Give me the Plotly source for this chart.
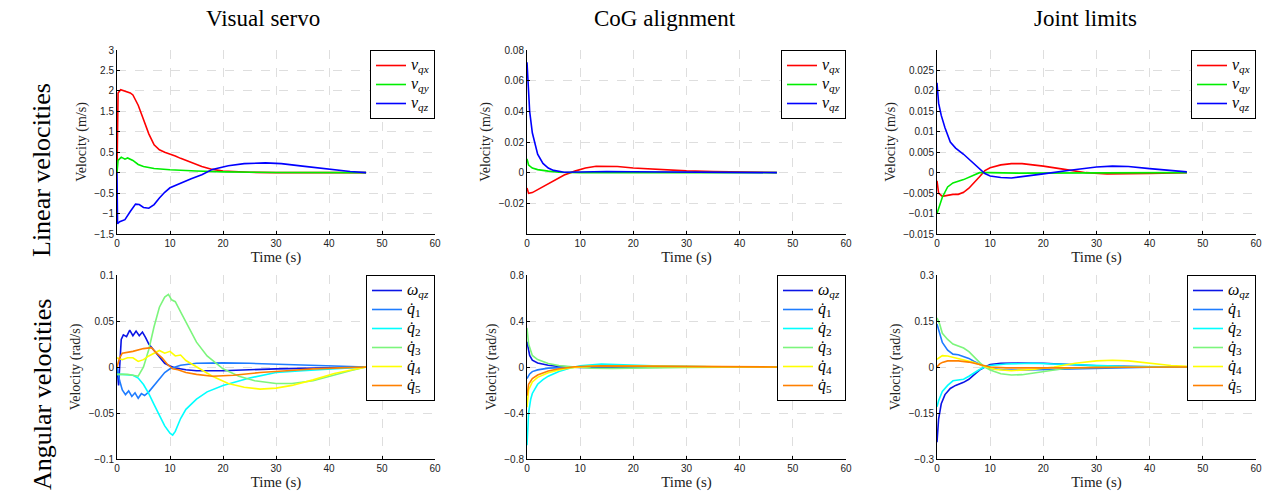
import plotly.graph_objects as go

# ---------------- column / row titles ----------------
col_titles = ["Visual servo", "CoG alignment", "Joint limits"]
row_titles = ["Linear velocities", "Angular velocities"]

lin_names = ["<i>v</i><sub><i>qx</i></sub>", "<i>v</i><sub><i>qy</i></sub>", "<i>v</i><sub><i>qz</i></sub>"]
ang_names = ["<i>ω</i><sub><i>qz</i></sub>", "<i>q̇</i><sub>1</sub>", "<i>q̇</i><sub>2</sub>",
             "<i>q̇</i><sub>3</sub>", "<i>q̇</i><sub>4</sub>", "<i>q̇</i><sub>5</sub>"]
lin_colors = ["#ff0000", "#00ee00", "#0000ff"]
ang_colors = ["#0a14e6", "#1e7cff", "#00ffff", "#7cf57c", "#ffff00", "#ff8000"]

x_ticks = [0, 10, 20, 30, 40, 50, 60]

# ---------------- Visual servo: linear ----------------
vs_vqx_t = [0, 0.2, 0.7, 1.5, 2.5, 3, 4, 5, 6, 7, 8, 9, 10, 11, 12, 14, 16, 18, 20, 25, 30, 47]
vs_vqx = [0, 1.95, 2.03, 2.0, 1.95, 1.9, 1.65, 1.3, 0.95, 0.68, 0.56, 0.5, 0.46, 0.41, 0.35, 0.25, 0.15, 0.08, 0.04, 0.01, 0.0, 0.0]
vs_vqy_t = [0, 0.2, 0.8, 1.5, 2, 3, 4, 5, 7, 10, 15, 20, 30, 47]
vs_vqy = [0, 0.3, 0.38, 0.33, 0.36, 0.3, 0.2, 0.15, 0.1, 0.07, 0.04, 0.02, 0.005, 0]
vs_vqz_t = [0, 0.1, 0.5, 1.5, 2.5, 3.5, 4.2, 5, 6, 7, 8, 9, 10, 12, 14, 16, 18, 21, 24, 28, 31, 35, 40, 44, 47]
vs_vqz = [0, -1.25, -1.2, -1.15, -0.95, -0.77, -0.78, -0.85, -0.87, -0.78, -0.62, -0.48, -0.37, -0.25, -0.15, -0.05, 0.08, 0.17, 0.22, 0.24, 0.22, 0.16, 0.08, 0.03, 0]

# ---------------- CoG alignment: linear ----------------
cg_vqx_t = [0, 0.3, 1, 3, 5, 7, 9, 11, 13, 15, 17, 20, 25, 30, 35, 40, 47]
cg_vqx = [-0.01, -0.0135, -0.013, -0.009, -0.005, -0.0015, 0.001, 0.003, 0.0042, 0.0043, 0.004, 0.003, 0.002, 0.0012, 0.0007, 0.0004, 0.0001]
cg_vqy_t = [0, 0.3, 1, 2, 4, 6, 10, 47]
cg_vqy = [0.009, 0.005, 0.003, 0.002, 0.001, 0.0003, 0, 0]
cg_vqz_t = [0, 0.2, 0.5, 1, 1.5, 2, 3, 4, 5, 7, 10, 15, 20, 30, 47]
cg_vqz = [0.072, 0.055, 0.04, 0.026, 0.018, 0.012, 0.006, 0.003, 0.0015, 0.0003, 0.0004, 0.0008, 0.0006, 0.0003, 0]

# ---------------- Joint limits: linear ----------------
jl_vqx_t = [0, 0.3, 1, 2, 3, 4, 5, 6, 7, 8, 9, 10, 12, 14, 16, 20, 24, 28, 32, 36, 40, 47]
jl_vqx = [-0.002, -0.005, -0.0058, -0.0055, -0.0053, -0.0053, -0.0048, -0.0038, -0.0025, -0.001, 0.0005, 0.0012, 0.0019, 0.0022, 0.0022, 0.0016, 0.0008, 0.0, -0.0003, -0.0003, -0.0002, 0]
jl_vqy_t = [0, 0.5, 1, 2, 3, 5, 7, 8, 10, 15, 47]
jl_vqy = [-0.010, -0.008, -0.006, -0.0035, -0.0025, -0.0017, -0.0005, 0, 0, -0.0001, 0]
jl_vqz_t = [0, 0.3, 0.8, 1.5, 2.5, 3.5, 5, 6, 7, 8, 9, 10, 12, 14, 16, 20, 25, 30, 33, 36, 40, 44, 47]
jl_vqz = [0.022, 0.017, 0.014, 0.011, 0.0075, 0.006, 0.0045, 0.0033, 0.002, 0.0008, -0.0002, -0.0008, -0.0012, -0.0013, -0.001, -0.0003, 0.0006, 0.0014, 0.0016, 0.0015, 0.001, 0.0005, 0.0002]

# ---------------- Visual servo: angular ----------------
vs_wqz_t = [0, 0.3, 0.8, 1.2, 1.8, 2.4, 3.0, 3.6, 4.2, 4.8, 5.4, 6, 7, 8, 9, 10, 11, 13, 15, 20, 25, 30, 40, 47]
vs_wqz = [0, -0.02, 0.03, 0.035, 0.033, 0.04, 0.034, 0.039, 0.034, 0.038, 0.032, 0.025, 0.018, 0.011, 0.004, 0.001, -0.001, -0.003, -0.004, -0.004, -0.003, -0.002, -0.001, 0]
vs_q1_t = [0, 0.5, 1, 1.6, 2.2, 2.8, 3.4, 4.0, 4.6, 5.2, 6, 7, 8, 9, 10, 12, 15, 20, 25, 30, 40, 47]
vs_q1 = [0, -0.015, -0.025, -0.03, -0.026, -0.032, -0.028, -0.034, -0.029, -0.031, -0.027, -0.02, -0.012, -0.006, -0.002, 0.002, 0.004, 0.0045, 0.004, 0.003, 0.0015, 0]
vs_q2_t = [0, 1, 3, 4, 5, 6, 7, 8, 9, 10, 10.5, 11, 12, 13, 15, 17, 20, 25, 30, 35, 40, 47]
vs_q2 = [-0.008, -0.008, -0.009, -0.012, -0.019, -0.029, -0.041, -0.053, -0.064, -0.072, -0.074, -0.07, -0.056, -0.046, -0.035, -0.027, -0.02, -0.012, -0.006, -0.004, -0.002, 0]
vs_q3_t = [0, 2, 3, 4, 5, 6, 7, 8, 9, 9.7, 10.3, 11, 12, 13, 15, 17, 20, 23, 26, 30, 33, 37, 40, 44, 47]
vs_q3 = [-0.008, -0.008, -0.009, -0.01, 0.0, 0.019, 0.044, 0.065, 0.076, 0.079, 0.073, 0.071, 0.06, 0.049, 0.027, 0.012, -0.002, -0.01, -0.015, -0.018, -0.018, -0.015, -0.01, -0.004, 0]
vs_q4_t = [0, 1, 2, 3, 4, 5, 6, 7, 8, 9, 10, 11, 12, 13, 15, 18, 21, 24, 27, 30, 33, 37, 41, 45, 47]
vs_q4 = [0.01, 0.008, 0.01, 0.01, 0.006, 0.008, 0.012, 0.015, 0.018, 0.015, 0.017, 0.012, 0.013, 0.007, 0.0, -0.01, -0.018, -0.022, -0.024, -0.023, -0.02, -0.014, -0.007, -0.002, 0]
vs_q5_t = [0, 0.5, 1, 3, 5, 6.5, 7.5, 8.5, 9.5, 10.5, 11.5, 13, 15, 18, 22, 27, 32, 37, 42, 47]
vs_q5 = [0, 0.01, 0.015, 0.017, 0.02, 0.021, 0.015, 0.01, 0.003, -0.002, -0.003, -0.006, -0.008, -0.01, -0.009, -0.006, -0.004, -0.002, -0.001, 0]

# ---------------- CoG alignment: angular ----------------
cg_wqz_t = [0, 0.5, 1, 2, 4, 6, 10, 15, 25, 47]
cg_wqz = [0.22, 0.1, 0.06, 0.035, 0.015, 0.005, -0.005, -0.005, -0.002, 0]
cg_q1_t = [0, 0.5, 1, 2, 4, 7, 15, 25, 47]
cg_q1 = [-0.1, -0.06, -0.04, -0.025, -0.01, -0.003, 0.01, 0.004, 0]
cg_q2_t = [0, 0.3, 0.7, 1, 2, 3, 4, 6, 8, 10, 14, 18, 25, 35, 47]
cg_q2 = [-0.68, -0.4, -0.28, -0.23, -0.15, -0.11, -0.08, -0.04, -0.01, 0.01, 0.025, 0.02, 0.008, 0.002, 0]
cg_q3_t = [0, 0.3, 1, 2, 4, 6, 9, 12, 16, 22, 30, 47]
cg_q3 = [0.34, 0.2, 0.1, 0.065, 0.03, 0.012, 0.0, -0.01, -0.012, -0.008, -0.003, 0]
cg_q4_t = [0, 0.3, 1, 2, 4, 6, 8, 12, 18, 30, 47]
cg_q4 = [-0.35, -0.2, -0.13, -0.09, -0.05, -0.025, -0.008, 0.008, 0.01, 0.003, 0]
cg_q5_t = [0, 0.3, 1, 2, 4, 6, 9, 14, 20, 30, 47]
cg_q5 = [-0.25, -0.15, -0.1, -0.07, -0.035, -0.015, 0.002, 0.01, 0.008, 0.003, 0]

# ---------------- Joint limits: angular ----------------
jl_wqz_t = [0, 0.3, 0.8, 1.5, 2.5, 3.5, 5, 6, 7, 8, 9, 10, 12, 15, 20, 25, 30, 40, 47]
jl_wqz = [-0.245, -0.17, -0.12, -0.09, -0.07, -0.06, -0.05, -0.04, -0.025, -0.01, 0.0, 0.008, 0.012, 0.013, 0.012, 0.008, 0.004, 0.001, 0]
jl_q1_t = [0, 0.5, 1, 2, 3, 4, 5, 6, 7, 8, 9, 10, 13, 17, 22, 30, 40, 47]
jl_q1 = [0.14, 0.11, 0.08, 0.055, 0.042, 0.04, 0.035, 0.028, 0.018, 0.008, 0.0, -0.005, -0.01, -0.01, -0.008, -0.004, -0.001, 0]
jl_q2_t = [0, 0.3, 1, 2, 3, 4, 5, 6, 7, 8, 9, 10, 13, 18, 22, 27, 35, 47]
jl_q2 = [-0.13, -0.11, -0.08, -0.06, -0.045, -0.043, -0.04, -0.03, -0.018, -0.008, 0.0, 0.005, 0.01, 0.012, 0.01, 0.006, 0.002, 0]
jl_q3_t = [0, 0.5, 1, 2, 3, 4, 5, 6, 7, 8, 9, 10, 12, 14, 16, 20, 24, 30, 47]
jl_q3 = [0.16, 0.14, 0.11, 0.09, 0.075, 0.068, 0.062, 0.05, 0.032, 0.015, 0.0, -0.01, -0.022, -0.026, -0.025, -0.015, -0.005, 0.0, 0]
jl_q4_t = [0, 0.5, 1, 2, 3, 5, 7, 9, 11, 14, 18, 22, 26, 30, 33, 36, 40, 44, 47]
jl_q4 = [0.025, 0.03, 0.037, 0.036, 0.032, 0.025, 0.015, 0.002, -0.008, -0.012, -0.008, 0.0, 0.012, 0.02, 0.022, 0.02, 0.012, 0.005, 0.002]
jl_q5_t = [0, 0.5, 1, 2, 4, 6, 8, 10, 13, 18, 25, 35, 47]
jl_q5 = [0.0, 0.01, 0.015, 0.02, 0.02, 0.016, 0.008, 0.0, -0.003, -0.004, -0.003, -0.001, 0]

# ---------------- y-axis settings per panel ----------------
y_ranges = [[-1.5, 3], [-0.04, 0.08], [-0.015, 0.03], [-0.1, 0.1], [-0.8, 0.8], [-0.3, 0.3]]
y_ticks = [[-1.5, -1, -0.5, 0, 0.5, 1, 1.5, 2, 2.5, 3],
           [-0.02, 0, 0.02, 0.04, 0.06, 0.08],
           [-0.015, -0.01, -0.005, 0, 0.005, 0.01, 0.015, 0.02, 0.025],
           [-0.1, -0.05, 0, 0.05, 0.1],
           [-0.8, -0.4, 0, 0.4, 0.8],
           [-0.3, -0.15, 0, 0.15, 0.3]]
y_titles = ["Velocity (m/s)"] * 3 + ["Velocity (rad/s)"] * 3

panels = [
    [(vs_vqx_t, vs_vqx), (vs_vqy_t, vs_vqy), (vs_vqz_t, vs_vqz)],
    [(cg_vqx_t, cg_vqx), (cg_vqy_t, cg_vqy), (cg_vqz_t, cg_vqz)],
    [(jl_vqx_t, jl_vqx), (jl_vqy_t, jl_vqy), (jl_vqz_t, jl_vqz)],
    [(vs_wqz_t, vs_wqz), (vs_q1_t, vs_q1), (vs_q2_t, vs_q2), (vs_q3_t, vs_q3), (vs_q4_t, vs_q4), (vs_q5_t, vs_q5)],
    [(cg_wqz_t, cg_wqz), (cg_q1_t, cg_q1), (cg_q2_t, cg_q2), (cg_q3_t, cg_q3), (cg_q4_t, cg_q4), (cg_q5_t, cg_q5)],
    [(jl_wqz_t, jl_wqz), (jl_q1_t, jl_q1), (jl_q2_t, jl_q2), (jl_q3_t, jl_q3), (jl_q4_t, jl_q4), (jl_q5_t, jl_q5)],
]

W, H = 1268, 491
x_doms = [[117 / W, 435 / W], [527 / W, 846 / W], [937 / W, 1256 / W]]
y_doms = [[1 - 234 / H, 1 - 50 / H], [1 - 459 / H, 1 - 275 / H]]

fig = go.Figure()
layout = dict(
    width=W, height=H, margin=dict(l=0, r=0, t=0, b=0, autoexpand=False),
    paper_bgcolor="white", plot_bgcolor="white", showlegend=True,
    font=dict(family="Liberation Sans, Arial, sans-serif", size=10, color="#222"),
)

serif = "Liberation Serif, Times New Roman, serif"
for p in range(6):
    r, c = divmod(p, 3)
    k = "" if p == 0 else str(p + 1)
    names = lin_names if r == 0 else ang_names
    colors = lin_colors if r == 0 else ang_colors
    leg = "legend" + k
    for i, (t, v) in enumerate(panels[p]):
        fig.add_trace(go.Scatter(
            x=t, y=v, mode="lines",
            name="<span style='font-size:16px'>" + names[i] + "</span>",
            line=dict(color=colors[i], width=1.6),
            xaxis="x" + k, yaxis="y" + k, legend=leg, showlegend=True,
        ))
    axis_common = dict(
        showline=True, linecolor="black", linewidth=1, mirror=False, automargin=False,
        ticks="inside", ticklen=3, tickcolor="black",
        showgrid=True, gridcolor="#dedede", griddash="dash", gridwidth=1,
        zeroline=False, tickfont=dict(family="Liberation Sans, Arial, sans-serif", size=10, color="#222"),
    )
    layout["xaxis" + k] = dict(
        axis_common, domain=x_doms[c], anchor="y" + k, range=[0, 60],
        tickvals=x_ticks,
        title=dict(text="Time (s)", font=dict(family=serif, size=15, color="#222"), standoff=0),
    )
    layout["yaxis" + k] = dict(
        axis_common, domain=y_doms[r], anchor="x" + k, range=y_ranges[p],
        tickvals=y_ticks[p],
        title=dict(text=y_titles[p], font=dict(family=serif, size=14, color="#222"), standoff=4),
    )
    layout[leg] = dict(
        x=x_doms[c][1], xanchor="right", y=y_doms[r][1], yanchor="top",
        bgcolor="white", bordercolor="black", borderwidth=1,
        font=dict(family=serif, size=11, color="black"),
        tracegroupgap=0, itemwidth=30,
    )

annotations = []
col_centers = [263, 665, 1085]
for c in range(3):
    annotations.append(dict(text=col_titles[c], x=col_centers[c] / W, y=1 - 18 / H, xref="paper", yref="paper",
                            showarrow=False, font=dict(family=serif, size=23, color="black"),
                            xanchor="center", yanchor="middle"))
row_centers = [170, 395]
for r in range(2):
    annotations.append(dict(text=row_titles[r], x=42 / W, y=1 - row_centers[r] / H, xref="paper", yref="paper",
                            showarrow=False, textangle=-90, font=dict(family=serif, size=26, color="black"),
                            xanchor="center", yanchor="middle"))
layout["annotations"] = annotations

fig.update_layout(**layout)
fig.write_html("out.html", config={"displayModeBar": False},
               post_script="document.body.style.margin='0px';document.body.style.padding='0px';")
